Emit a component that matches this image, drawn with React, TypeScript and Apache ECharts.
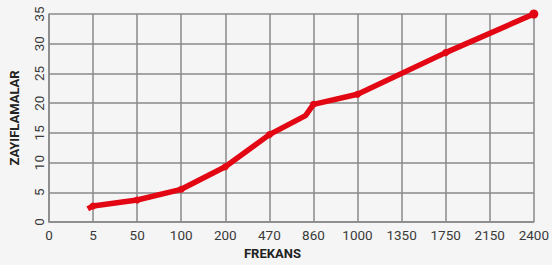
import React, { useEffect, useRef } from "react";
import * as echarts from "echarts";

const xLabels = ["0", "5", "50", "100", "200", "470", "860", "1000", "1350", "1750", "2150", "2400"];
const yTicks = [0, 5, 10, 15, 20, 25, 30, 35];
// line points: x as category position (index), y as attenuation
const pointX = [0.88, 1, 2, 3, 4, 5, 5.82, 6, 7, 9, 11];
const pointY = [2.2, 2.7, 3.7, 5.5, 9.3, 14.7, 17.9, 19.8, 21.5, 28.5, 35];
const pointMarked = [false, true, true, true, true, true, false, true, true, true, true];

const FONT = "Roboto, 'Liberation Sans', sans-serif";

export default function App() {
  const ref = useRef<HTMLDivElement>(null);
  useEffect(() => {
    const chart = echarts.init(ref.current!, null, { renderer: "svg" });
    const data = pointX.map((x, i) => ({
      value: [x, pointY[i]],
      symbol: pointMarked[i] ? "circle" : "none",
      symbolSize: i === pointX.length - 1 ? 9 : 7,
    }));
    chart.setOption({
      animation: false,
      backgroundColor: "#f5f5f5",
      grid: { left: 48, right: 17, top: 14, bottom: 40, containLabel: false },
      xAxis: {
        type: "value",
        min: 0,
        max: xLabels.length - 1,
        interval: 1,
        name: "FREKANS",
        nameLocation: "middle",
        nameGap: 25,
        nameTextStyle: { fontFamily: FONT, fontWeight: "bold", fontSize: 13, color: "#222", padding: [0, 38, 0, 0] },
        axisLine: { show: true, lineStyle: { color: "#888", width: 1.5 } },
        axisTick: { show: false },
        splitLine: { show: true, lineStyle: { color: "#888", width: 1.5 } },
        axisLabel: {
          fontFamily: FONT,
          fontSize: 13.5,
          color: "#3a3a3a",
          margin: 6,
          formatter: (v: number) => xLabels[Math.round(v)] ?? "",
        },
      },
      yAxis: {
        type: "value",
        min: yTicks[0],
        max: yTicks[yTicks.length - 1],
        interval: 5,
        name: "ZAYIFLAMALAR",
        nameLocation: "middle",
        nameGap: 28,
        nameTextStyle: { fontFamily: FONT, fontWeight: "bold", fontSize: 13, color: "#222" },
        axisLine: { show: true, lineStyle: { color: "#888", width: 1.5 } },
        axisTick: { show: false },
        splitLine: { show: true, lineStyle: { color: "#888", width: 1.5 } },
        axisLabel: { fontFamily: FONT, fontSize: 13.5, color: "#3a3a3a", rotate: 90, margin: 3 },
      },
      series: [
        {
          type: "line",
          data,
          lineStyle: { color: "#e30613", width: 5.5 },
          itemStyle: { color: "#e30613" },
          showSymbol: true,
          z: 5,
        },
      ],
    });
    return () => chart.dispose();
  }, []);
  return <div ref={ref} style={{ position: "fixed", left: 0, top: 0, width: 552, height: 265 }} />;
}
